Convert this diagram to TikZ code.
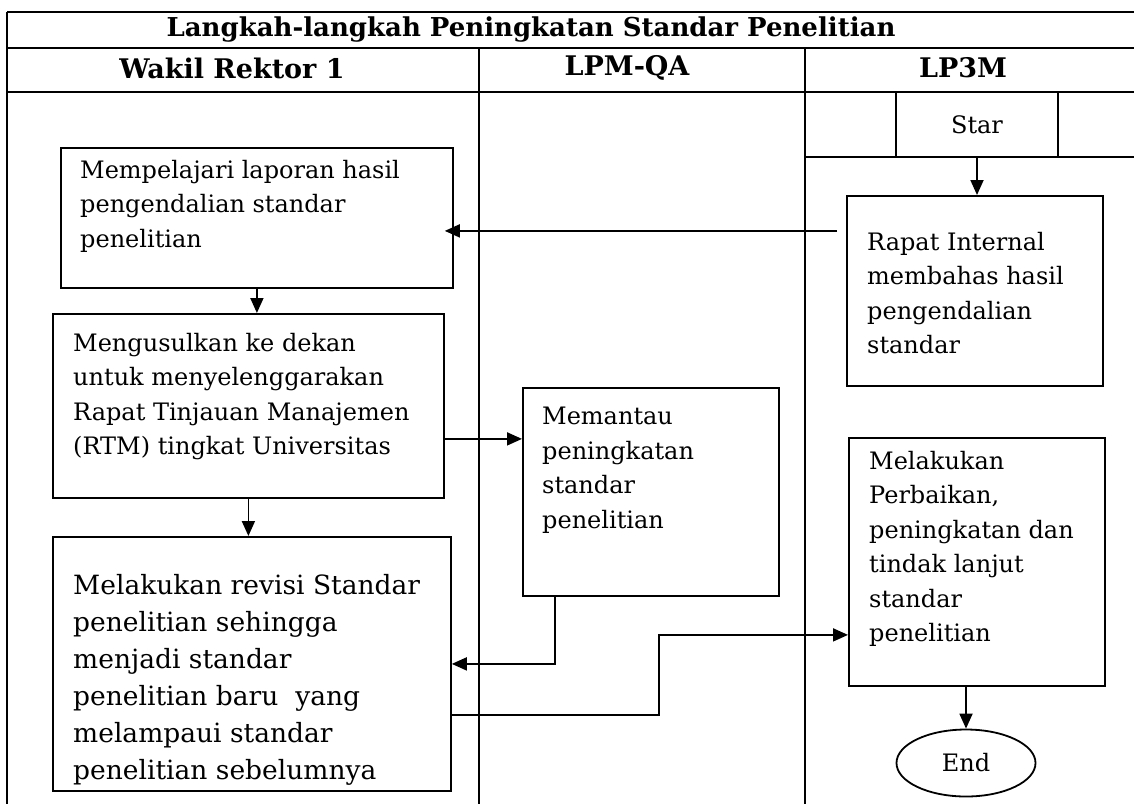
\documentclass[tikz,border=0pt]{standalone}
\usepackage{fontspec}
\setmainfont{DejaVu Serif}
\usetikzlibrary{positioning,arrows.meta,shapes.geometric}

\begin{document}
\begin{tikzpicture}[x=1pt, y=-1pt,
    grid/.style={line width=2pt},
    proc/.style={draw=black, line width=1.8pt, anchor=north west, inner sep=0pt},
    txt/.style={anchor=north west, inner sep=0pt, align=left, font=\fontsize{24}{34.5}\selectfont},
    head/.style={font=\fontsize{27}{30}\selectfont\bfseries},
    arrow/.style={-{Triangle[length=15pt, width=13pt]}, line width=1.8pt}
]
\useasboundingbox (0,0) rectangle (1134,804);

% Table
\draw[grid] (7,12) -- (1134,12);
\draw[grid] (7,48) -- (1134,48);
\draw[grid] (7,92) -- (1134,92);
\draw[grid] (7,12) -- (7,804);
\draw[grid] (479,48) -- (479,804);
\draw[grid] (805,48) -- (805,804);
\draw[grid] (805,157) -- (1134,157);
\draw[grid] (1058,92) -- (1058,157);

\node[head, font=\fontsize{26}{30}\selectfont\bfseries] (title) at (531,30) {Langkah-langkah Peningkatan Standar Penelitian};
\node[head] (wakil) at (232,68) {Wakil Rektor 1};
\node[head] (lpmqa) at (627,68) {LPM-QA};
\node[head] (lp3m) at (963,68) {LP3M};

% Boxes
\node[proc, minimum width=162, minimum height=65, anchor=center, font=\fontsize{24}{28}\selectfont] (star) at (977,124.5) {Star};
\node[proc, minimum width=392, minimum height=140] (mempelajari) at (60,147) {};
\node[proc, minimum width=391, minimum height=184] (mengusulkan) at (52,313) {};
\node[proc, minimum width=398, minimum height=254] (revisi) at (52,536) {};
\node[proc, minimum width=256, minimum height=208] (memantau) at (522,387) {};
\node[proc, minimum width=256, minimum height=190] (rapat) at (846,195) {};
\node[proc, minimum width=256, minimum height=248] (perbaikan) at (848,437) {};
\node[draw, line width=1.8pt, ellipse, minimum width=139, minimum height=67, font=\fontsize{24}{28}\selectfont] (end) at (966,763) {End};

% Box texts
\node[txt] (tMempelajari) at ([shift={(20,13)}]mempelajari.north west) {Mempelajari laporan hasil\\pengendalian standar\\penelitian};
\node[txt] (tMengusulkan) at ([shift={(21,20)}]mengusulkan.north west) {Mengusulkan ke dekan\\untuk menyelenggarakan\\Rapat Tinjauan Manajemen\\(RTM) tingkat Universitas};
\node[txt, font=\fontsize{26.5}{37}\selectfont] (tRevisi) at ([shift={(21,38)}]revisi.north west) {Melakukan revisi Standar\\penelitian sehingga\\menjadi standar\\penelitian baru~ yang\\melampaui standar\\penelitian sebelumnya};
\node[txt] (tMemantau) at ([shift={(20,20)}]memantau.north west) {Memantau\\peningkatan\\standar\\penelitian};
\node[txt] (tRapat) at ([shift={(21,37)}]rapat.north west) {Rapat Internal\\membahas hasil\\pengendalian\\standar};
\node[txt] (tPerbaikan) at ([shift={(21,14)}]perbaikan.north west) {Melakukan\\Perbaikan,\\peningkatan dan\\tindak lanjut\\standar\\penelitian};

% Arrows
\draw[arrow] (star.south) -- (star.south |- rapat.north);
\draw[arrow] ([shift={(-9,-60)}]rapat.west) -- ([shift={(-9,-60)}]rapat.west -| mempelajari.east);
\draw[arrow] (mempelajari.south) -- (mempelajari.south |- mengusulkan.north);
\draw[arrow] ([yshift=-33pt]mengusulkan.east) -- ([yshift=-33pt]mengusulkan.east -| memantau.west);
\draw[arrow] (mengusulkan.south) -- (mengusulkan.south |- revisi.north);
\draw[arrow] ([xshift=33pt]memantau.south west) |- (revisi.east);
\draw[arrow] ([yshift=-51pt]revisi.east) -- ++(207,0) |- ([yshift=-73pt]perbaikan.west);
\draw[arrow] (end.north |- perbaikan.south) -- (end.north);

\end{tikzpicture}
\end{document}
